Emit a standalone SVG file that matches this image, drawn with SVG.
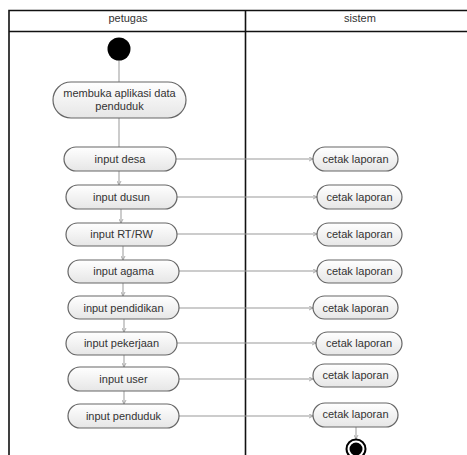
<svg xmlns="http://www.w3.org/2000/svg" width="467" height="455" viewBox="0 0 467 455">
<defs>
<linearGradient id="g" x1="0" y1="0" x2="0" y2="1">
<stop offset="0" stop-color="#ffffff"/>
<stop offset="1" stop-color="#e6e6e6"/>
</linearGradient>
<marker id="a" markerWidth="5" markerHeight="5" refX="4" refY="2.5" orient="auto" markerUnits="userSpaceOnUse">
<path d="M0,0.5 L4,2.5 L0,4.5" fill="none" stroke="#999" stroke-width="0.8"/>
</marker>
</defs>
<style>
.lane{fill:none;stroke:#111;stroke-width:1.6}
.act{fill:url(#g);stroke:#666;stroke-width:1.2}
.t{font-family:"Liberation Sans",Arial,sans-serif;font-size:11px;fill:#333;text-anchor:middle}
.h{font-family:"Liberation Sans",Arial,sans-serif;font-size:11px;fill:#333;text-anchor:middle}
.c{fill:none;stroke:#999;stroke-width:1}
</style>
<rect width="467" height="455" fill="#fff"/>
<g id="lanes">
<path class="lane" d="M9,455 V10.5 H467"/>
<path class="lane" d="M245.5,10.5 V455"/>
<path class="lane" d="M9,31.5 H467"/>
<text class="h" x="128" y="22">petugas</text>
<text class="h" x="360" y="22">sistem</text>
</g>
<g id="connectors">
<path class="c" d="M119,60 V82"/>
<path class="c" d="M119,118 V147"/>
<path class="c" d="M119,171 V185" marker-end="url(#a)"/>
<path class="c" d="M121,209 V223" marker-end="url(#a)"/>
<path class="c" d="M123,246 V260" marker-end="url(#a)"/>
<path class="c" d="M123,283 V296" marker-end="url(#a)"/>
<path class="c" d="M124,319 V332" marker-end="url(#a)"/>
<path class="c" d="M124,355 V367" marker-end="url(#a)"/>
<path class="c" d="M124,391 V404" marker-end="url(#a)"/>
<path class="c" d="M176,159 H313" marker-end="url(#a)"/>
<path class="c" d="M177,197 H317" marker-end="url(#a)"/>
<path class="c" d="M177,234 H317" marker-end="url(#a)"/>
<path class="c" d="M179,271 H317" marker-end="url(#a)"/>
<path class="c" d="M179,308 H313" marker-end="url(#a)"/>
<path class="c" d="M177,343 H316" marker-end="url(#a)"/>
<path class="c" d="M179,379 H313" marker-end="url(#a)"/>
<path class="c" d="M179,416 H313" marker-end="url(#a)"/>
<path class="c" d="M356,427 V439" marker-end="url(#a)"/>
</g>
<g id="start"><circle cx="119" cy="49" r="11.5" fill="#000"/></g>
<g id="membuka"><rect class="act" x="53" y="82" width="133" height="36" rx="18"/>
<text class="t" x="119.5" y="97">membuka aplikasi data</text><text class="t" x="119.5" y="110">penduduk</text></g>
<g id="desa"><rect class="act" x="64" y="147" width="112" height="24" rx="12"/><text class="t" x="120" y="163">input desa</text></g>
<g id="dusun"><rect class="act" x="66" y="185" width="111" height="24" rx="12"/><text class="t" x="121.5" y="201">input dusun</text></g>
<g id="rtrw"><rect class="act" x="66" y="223" width="111" height="23" rx="11.5"/><text class="t" x="121.5" y="238">input RT/RW</text></g>
<g id="agama"><rect class="act" x="68" y="260" width="111" height="23" rx="11.5"/><text class="t" x="123.5" y="275">input agama</text></g>
<g id="pendidikan"><rect class="act" x="68" y="296" width="111" height="23" rx="11.5"/><text class="t" x="123.5" y="312">input pendidikan</text></g>
<g id="pekerjaan"><rect class="act" x="66" y="332" width="111" height="23" rx="11.5"/><text class="t" x="121.5" y="347">input pekerjaan</text></g>
<g id="user"><rect class="act" x="68" y="367" width="111" height="24" rx="12"/><text class="t" x="123.5" y="383">input user</text></g>
<g id="penduduk"><rect class="act" x="68" y="404" width="111" height="24" rx="12"/><text class="t" x="123.5" y="420">input penduduk</text></g>
<g id="cetak1"><rect class="act" x="313" y="147" width="85" height="24" rx="12"/><text class="t" x="355.5" y="163">cetak laporan</text></g>
<g id="cetak2"><rect class="act" x="317" y="185" width="85" height="24" rx="12"/><text class="t" x="359.5" y="201">cetak laporan</text></g>
<g id="cetak3"><rect class="act" x="317" y="223" width="85" height="23" rx="11.5"/><text class="t" x="359.5" y="238">cetak laporan</text></g>
<g id="cetak4"><rect class="act" x="317" y="260" width="85" height="23" rx="11.5"/><text class="t" x="359.5" y="275">cetak laporan</text></g>
<g id="cetak5"><rect class="act" x="313" y="296" width="85" height="23" rx="11.5"/><text class="t" x="355.5" y="312">cetak laporan</text></g>
<g id="cetak6"><rect class="act" x="316" y="332" width="86" height="23" rx="11.5"/><text class="t" x="359" y="347">cetak laporan</text></g>
<g id="cetak7"><rect class="act" x="313" y="364" width="85" height="23" rx="11.5"/><text class="t" x="355.5" y="379">cetak laporan</text></g>
<g id="cetak8"><rect class="act" x="313" y="403" width="85" height="24" rx="12"/><text class="t" x="355.5" y="418">cetak laporan</text></g>
<g id="end"><circle cx="356" cy="449" r="9.5" fill="#fff" stroke="#000" stroke-width="2"/><circle cx="356" cy="449" r="6.5" fill="#000"/></g>
</svg>
